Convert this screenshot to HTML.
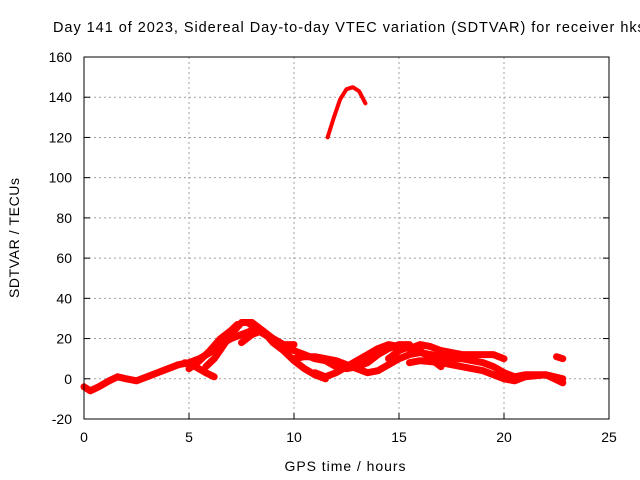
<!DOCTYPE html>
<html><head><meta charset="utf-8"><style>
body{margin:0;background:#fff}
svg{display:block;font-family:"Liberation Sans",sans-serif}
</style></head><body>
<svg id="chart" width="640" height="480" xmlns="http://www.w3.org/2000/svg">
<rect width="640" height="480" fill="#fff"/>
<text x="53" y="32" font-size="14.5" textLength="600" lengthAdjust="spacing" fill="#000">Day 141 of 2023, Sidereal Day-to-day VTEC variation (SDTVAR) for receiver hksc</text>
<g id="grid"></g>
<g id="series"></g>
<rect x="84" y="57" width="525" height="362" fill="none" stroke="#000" stroke-width="1"/>
<g id="ticks"></g>
<text x="345" y="471" font-size="14" textLength="121" text-anchor="middle">GPS time / hours</text>
<text transform="translate(19,238) rotate(-90)" font-size="14" textLength="120" text-anchor="middle">SDTVAR / TECUs</text>
</svg>
<script>
const xTicks=[0,5,10,15,20,25];
const yTicks=[-20,0,20,40,60,80,100,120,140,160];
const track1=[[0,-4],[0.3,-6],[0.7,-4],[1.2,-1],[1.6,1],[2,0],[2.5,-1],[3,1],[3.5,3],[4,5],[4.5,7],[5,8],[5.5,10],[6,13],[6.5,17],[7,20],[7.5,22],[8,24]];
const track2=[[5,5],[5.5,9],[6,14],[6.5,20],[7,24],[7.3,27]];
const track3=[[4.8,8],[5.3,6],[5.8,3],[6.2,1]];
const track4=[[5.8,6],[6.2,10],[6.6,16],[7,22],[7.5,28],[8,28],[8.5,24],[9,18],[9.5,14],[10,9],[10.5,5],[11,2],[11.5,0]];
const track5=[[7.8,28],[8.3,24],[8.6,22],[9,20],[9.5,16],[10,14],[10.5,12],[11,10],[11.5,9],[12,6],[12.5,5],[13,6],[13.5,8],[14,12],[14.5,15],[15,17],[15.5,17]];
const track6=[[7.5,18],[8,22],[8.5,24],[9,20],[9.5,17],[10,17]];
const track7=[[10,10],[10.5,11],[11,11],[11.5,10],[12,9],[12.5,7],[13,5],[13.5,3],[14,4],[14.5,7],[15,10],[15.5,12],[16,13],[16.5,12],[17,11],[17.5,10],[18,10],[19,8],[19.5,6],[20,3],[20.5,1],[21,2],[22,2],[22.8,0]];
const track8=[[11,3],[11.5,1],[12,3],[12.5,6],[13,9],[13.5,12],[14,15],[14.5,17],[15,16],[15.5,15],[16,17],[16.5,16],[17,14],[17.5,13],[18,12],[19,12],[19.5,12],[20,10]];
const track9=[[15.5,8],[16,9],[17,8],[18,6],[19,4],[19.5,2],[20,0],[20.5,-1],[21,1],[22,2],[22.8,-2]];
const track10=[[14.5,10],[15,14],[15.5,16],[16,14],[16.5,10],[17,6]];
const track11=[[22.5,11],[22.8,10]];
const track12=[[11.6,120],[11.9,130],[12.2,139],[12.5,144],[12.8,145],[13.1,143],[13.4,137]];
const tracks=[track1,track2,track3,track4,track5,track6,track7,track8,track9,track10,track11,track12];
const NS="http://www.w3.org/2000/svg";
const X0=84,X1=609,Y0=419,Y1=57;
function sx(v){return X0+(v-0)/(25-0)*(X1-X0);}
function sy(v){return Y0-(v+20)/(160+20)*(Y0-Y1);}
function mk(tag,attrs,parent){const e=document.createElementNS(NS,tag);for(const k in attrs)e.setAttribute(k,attrs[k]);parent.appendChild(e);return e;}
const grid=document.getElementById('grid'),ticks=document.getElementById('ticks'),series=document.getElementById('series');
xTicks.forEach(t=>{
 const x=sx(t);
 if(t>0&&t<25){const g=mk('line',{x1:x,y1:Y1,x2:x,y2:Y0,stroke:'#a0a0a0','stroke-dasharray':'2,3'},grid);
 
 }
 const tl=mk('line',{x1:x,y1:Y0,x2:x,y2:Y0-6,stroke:'#000'},ticks);
 
 
 const tx=mk('text',{x:x,y:Y0+23,'font-size':14,'text-anchor':'middle'},ticks);
 tx.textContent=t;
 
 
});
yTicks.forEach(t=>{
 const y=sy(t);
 if(t>-20&&t<160){const g=mk('line',{x1:X0,y1:y,x2:X1,y2:y,stroke:'#a0a0a0','stroke-dasharray':'2,3'},grid);
 
 }
 const tl=mk('line',{x1:X0,y1:y,x2:X0+6,y2:y,stroke:'#000'},ticks);
 
 
 const tl2=mk('line',{x1:X1,y1:y,x2:X1-6,y2:y,stroke:'#000'},ticks);
 
 
 const tx=mk('text',{x:X0-12,y:y+5,'font-size':14,'text-anchor':'end'},ticks);
 tx.textContent=t;
 
 
});
tracks.forEach((tr,i)=>{
 const pts=tr.map(p=>sx(p[0]).toFixed(1)+','+sy(p[1]).toFixed(1)).join(' ');
 const pl=mk('polyline',{points:pts,fill:'none',stroke:'#ff0000','stroke-width':(i===11?4:7),'stroke-linejoin':'round','stroke-linecap':'round'},series);
 
 
});
</script>
</body></html>
